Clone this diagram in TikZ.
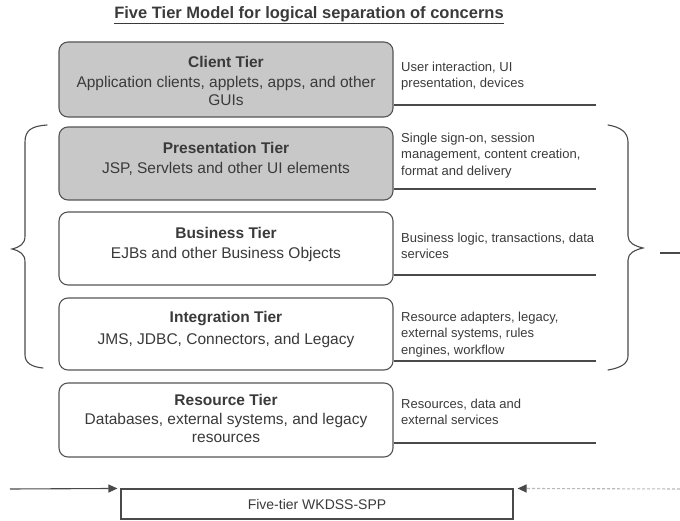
\documentclass[tikz,border=0pt]{standalone}
\usepackage{fontspec}
\setmainfont{Liberation Sans}
\usetikzlibrary{arrows.meta}

\definecolor{inkgray}{HTML}{3A3A3A}
\definecolor{boxline}{HTML}{555555}
\definecolor{tierfill}{HTML}{C8C8C8}
\definecolor{rulegray}{HTML}{4A4A4A}
\definecolor{faintgray}{HTML}{B8B8B8}

\tikzset{
  tierbox/.style={draw=boxline, line width=1.1pt, rounded corners=9pt,
    minimum width=334pt, inner sep=0pt, fill=white},
  shadedtier/.style={tierbox, fill=tierfill},
  tiertext/.style={anchor=north, align=center, inner sep=0pt, text=inkgray,
    font=\fontsize{15.5}{18}\selectfont},
  desctext/.style={anchor=north west, align=left, inner sep=0pt, text=inkgray,
    font=\fontsize{13}{16.5}\selectfont},
  sepline/.style={draw=rulegray, line width=1.2pt},
  bracepath/.style={draw=rulegray, line width=1.1pt, line cap=round},
  arrowtip/.style={-{Triangle[length=9pt,width=8pt]}},
}

\begin{document}
\begin{tikzpicture}[x=1pt,y=-1pt]
\useasboundingbox (0,0) rectangle (680,521);

% heading
\node[text=inkgray, font=\fontsize{16.5}{19}\selectfont\bfseries, inner sep=0pt]
  (heading) at (309,15) {\underline{Five Tier Model for logical separation of concerns}};

% tier boxes
\node[shadedtier, minimum height=75pt] (client)       at (226,79.5) {};
\node[shadedtier, minimum height=73pt] (presentation) at (226,163.5) {};
\node[tierbox,    minimum height=73pt] (business)     at (226,248.5) {};
\node[tierbox,    minimum height=72pt] (integration)  at (226,334) {};
\node[tierbox,    minimum height=74pt] (resource)     at (226,420) {};

% tier captions
\node[tiertext] (clientT) at (226,56)
  {\textbf{Client Tier}\\[2pt]Application clients, applets, apps, and other\\GUIs};
\node[tiertext] (presentationT) at (226,142)
  {\textbf{Presentation Tier}\\[2pt]JSP, Servlets and other UI elements};
\node[tiertext] (businessT) at (226,227)
  {\textbf{Business Tier}\\[2pt]EJBs and other Business Objects};
\node[tiertext] (integrationT) at (226,311)
  {\textbf{Integration Tier}\\[4pt]JMS, JDBC, Connectors, and Legacy};
\node[tiertext] (resourceT) at (226,394)
  {\textbf{Resource Tier}\\[1pt]Databases, external systems, and legacy\\resources};

% responsibilities beside each tier
\node[desctext] (clientD) at (401,61.5)
  {User interaction, UI\\presentation, devices};
\node[desctext] (presentationD) at (401,132.5)
  {Single sign-on, session\\management, content creation,\\format and delivery};
\node[desctext] (businessD) at (401,232.5)
  {Business logic, transactions, data\\services};
\node[desctext] (integrationD) at (401,311.5)
  {Resource adapters, legacy,\\external systems, rules\\engines, workflow};
\node[desctext] (resourceD) at (401,398.5)
  {Resources, data and\\external services};

% rules under the responsibilities
\coordinate (clientR)       at (596,105);
\coordinate (presentationR) at (596,189);
\coordinate (businessR)     at (596,275);
\coordinate (integrationR)  at (596,361);
\coordinate (resourceR)     at (596,443);
\draw[sepline] (client.east |- clientR) -- (clientR);
\draw[sepline] (presentation.east |- presentationR) -- (presentationR);
\draw[sepline] (business.east |- businessR) -- (businessR);
\draw[sepline] (integration.east |- integrationR) -- (integrationR);
\draw[sepline] (resource.east |- resourceR) -- (resourceR);

% left brace around the middle tiers
\draw[bracepath] (47,125) .. controls (32,126) and (25,130) .. (25,142)
  -- (25,236) .. controls (25,244) and (20,247) .. (12,249)
  .. controls (20,251) and (25,254) .. (25,262)
  -- (25,355) .. controls (25,363) and (32,367) .. (43,368);

% right brace and its lead-off stroke
\draw[bracepath] (608,125) .. controls (620,127) and (628,132) .. (628,142)
  -- (628,236) .. controls (628,243) and (635,246) .. (643,248)
  .. controls (635,250) and (628,253) .. (628,260)
  -- (628,356) .. controls (628,364) and (620,368) .. (608,370);
\coordinate (leadA) at (660,253);
\coordinate (leadB) at (680,253);
\draw[draw=rulegray, line width=1.1pt] (leadA) -- (leadB);

% bottom system box with incoming arrows
\node[draw=rulegray, line width=1.1pt, minimum width=392pt, minimum height=30pt,
  inner sep=0pt, text=inkgray, font=\fontsize{14}{16}\selectfont]
  (system) at (317,504) {Five-tier WKDSS-SPP};
\coordinate (inLeft)  at (10,489);
\coordinate (inRight) at (680,489);
\draw[draw=rulegray, line width=1.1pt, arrowtip, shorten >=3pt] (inLeft) -- (system.north west);
\draw[draw=faintgray, line width=1.1pt, densely dashed, shorten >=4pt,
  -{Triangle[length=9pt,width=8pt,color=rulegray]}] (inRight) -- (system.north east);
\end{tikzpicture}
\end{document}
